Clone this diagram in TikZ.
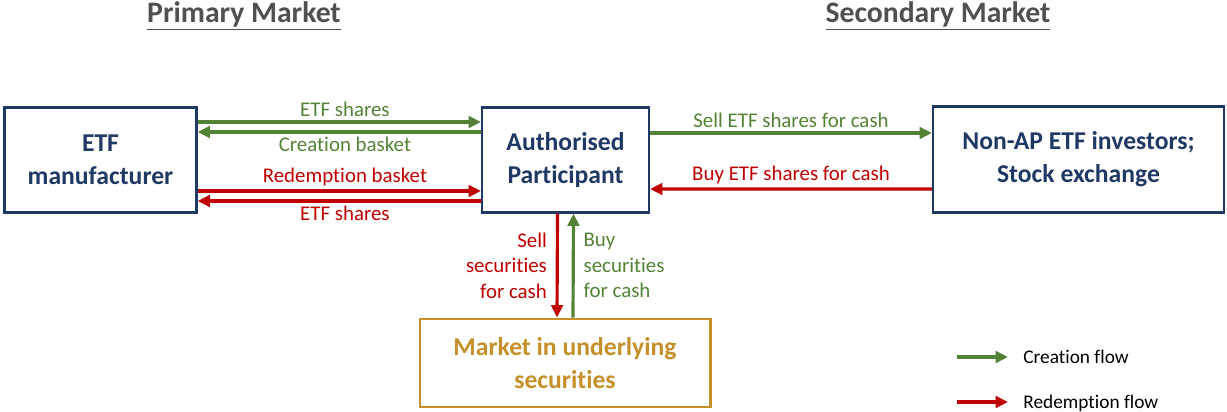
\documentclass[tikz,border=0pt]{standalone}
\usepackage{fontspec}
\setmainfont{Carlito}[RawFeature={-liga;-clig;-dlig;-rlig}]
\usetikzlibrary{arrows.meta,calc}

\definecolor{navy}{RGB}{31,56,100}
\definecolor{grn}{RGB}{84,130,53}
\definecolor{rd}{RGB}{192,0,0}
\definecolor{gold}{RGB}{197,144,42}
\definecolor{ttl}{RGB}{80,80,80}

\begin{document}
\begin{tikzpicture}[
    x=0.02cm, y=-0.02cm,
    box/.style={draw=navy, line width=1.2pt, text=navy, align=center,
        font=\fontsize{14.6}{18.6}\selectfont\bfseries, inner sep=0pt},
    flow/.style={line width=1.8pt, -{Triangle[length=7pt, width=6.5pt]}},
    cre/.style={flow, draw=grn},
    red/.style={flow, draw=rd},
    lbl/.style={font=\fontsize{11.9}{14.6}\selectfont, inner sep=2pt},
    title/.style={text=ttl, font=\fontsize{16.9}{20}\selectfont\bfseries}
]
    \useasboundingbox (0,0) rectangle (1227,412);

    % titles
    \node[title] (prim) at (244,16) {\underline{Primary Market}};
    \node[title] (sec) at (938,16) {\underline{Secondary Market}};

    % boxes
    \node[box, minimum width=192*0.02cm, minimum height=105*0.02cm] (mfr) at (100.5,160) {ETF\\manufacturer};
    \node[box, minimum width=167*0.02cm, minimum height=105*0.02cm] (ap) at (565.5,160) {Authorised\\Participant};
    \node[box, minimum width=291*0.02cm, minimum height=106*0.02cm] (inv) at (1078.5,159.5) {Non-AP ETF investors;\\Stock exchange};
    \node[box, draw=gold, text=gold, line width=1.7pt, minimum width=290*0.02cm, minimum height=88*0.02cm] (mkt) at (565,363) {Market in underlying\\securities};

    % primary market flows
    \draw[cre] ($(mfr.east)+(0,-38)$) -- node[lbl, text=grn, above, pos=0.52] {ETF shares} ($(ap.west)+(0,-38)$);
    \draw[cre] ($(ap.west)+(0,-28)$) -- node[lbl, text=grn, below, pos=0.48] {Creation basket} ($(mfr.east)+(0,-28)$);
    \draw[red] ($(mfr.east)+(0,31)$) -- node[lbl, text=rd, above, pos=0.52] {Redemption basket} ($(ap.west)+(0,31)$);
    \draw[red] ($(ap.west)+(0,41)$) -- node[lbl, text=rd, below, pos=0.48] {ETF shares} ($(mfr.east)+(0,41)$);

    % secondary market flows
    \draw[cre] ($(ap.east)+(0,-27)$) -- node[lbl, text=grn, above] {Sell ETF shares for cash} ($(inv.west)+(0,-26.5)$);
    \draw[red] ($(inv.west)+(0,29.5)$) -- node[lbl, text=rd, above] {Buy ETF shares for cash} ($(ap.east)+(0,29)$);

    % underlying securities
    \draw[red] ($(ap.south)+(-8,0)$) -- node[lbl, text=rd, left, align=right, xshift=-3pt] {Sell\\securities\\for cash} ($(mkt.north)+(-8,0)$);
    \draw[cre] ($(mkt.north)+(8,0)$) -- node[lbl, text=grn, right, align=left, xshift=3pt] {Buy\\securities\\for cash} ($(ap.south)+(8,0)$);

    % legend
    \coordinate (lg1) at (957,357);
    \coordinate (lg2) at (1008,357);
    \coordinate (lr1) at (957,402);
    \coordinate (lr2) at (1008,402);
    \draw[cre] (lg1) -- (lg2);
    \draw[red] (lr1) -- (lr2);
    \node[anchor=west, font=\fontsize{11}{13}\selectfont, inner sep=0pt] (lgc) at (1023,357) {Creation flow};
    \node[anchor=west, font=\fontsize{11}{13}\selectfont, inner sep=0pt] (lgr) at (1023,403) {Redemption flow};

\end{tikzpicture}
\end{document}
